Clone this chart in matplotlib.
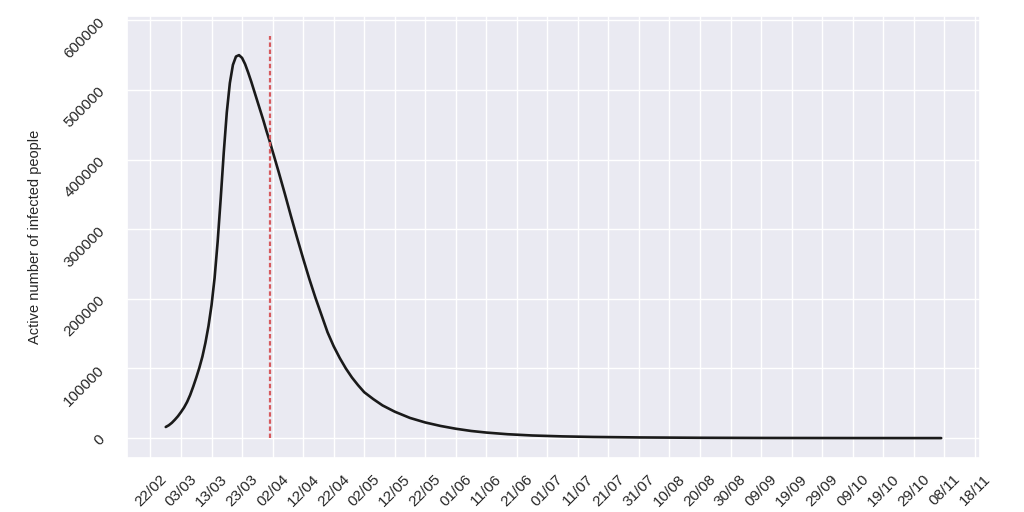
import numpy as np
import pandas as pd
import matplotlib
matplotlib.use("Agg")
import matplotlib.pyplot as plt
import seaborn as sns
import matplotlib.dates as mdates

# days counted from 22/02/2020
start = "2020-02-22"
day_offsets = [5, 6, 7, 8, 9, 10, 11, 12, 13, 14, 15, 16, 17, 18, 19, 20, 21, 22, 23, 24,
               25, 26, 27, 28, 29, 30, 31, 32, 33, 34, 35, 36, 37, 38, 39, 40, 42, 44, 46,
               48, 50, 52, 54, 56, 58, 60, 62, 64, 66, 68, 70, 73, 76, 80, 85, 90, 95, 100,
               105, 110, 117, 125, 135, 145, 160, 180, 200, 230, 259]
active = [16000, 18500, 22000, 26500, 31500, 37500, 44000, 52000, 62000, 74000,
          87000, 101000, 117000, 137000, 161000, 191000, 230000, 282000, 344000, 410000,
          468000, 510000, 536000, 548000, 550000, 546000, 537000, 525000, 512000, 498000,
          484000, 470000, 456000, 441000, 427000, 412000, 382000, 351000, 319000,
          288000, 258000, 229000, 202000, 177000, 152000, 132000, 115000, 100000, 87000,
          76000, 66000, 56000, 47000, 38000, 29000, 22500, 17500, 13500,
          10300, 8000, 5600, 3800, 2500, 1700, 1000, 500, 250, 100, 50]
lockdown = "2020-04-01"
tick_first = "2020-02-22"
tick_last = "2020-11-18"
yticks = [0, 100000, 200000, 300000, 400000, 500000, 600000]

sns.set_theme(style="darkgrid")
plt.rcParams['font.family'] = ['Liberation Sans', 'DejaVu Sans']

dates = pd.Timestamp(start) + pd.to_timedelta(day_offsets, unit="D")

fig, ax = plt.subplots(figsize=(10.24, 5.12), dpi=100)
fig.subplots_adjust(left=0.124, right=0.957, top=0.969, bottom=0.105)

ax.plot(dates, active, color='k', lw=1.9)
ax.vlines(pd.Timestamp(lockdown), 0, max(active) * 1.05, colors='#d65a5e',
          linestyles=(0, (2, 1.2)), lw=1.6)

ax.set_xticks(pd.date_range(tick_first, tick_last, freq="10D"))
ax.xaxis.set_major_formatter(mdates.DateFormatter("%d/%m"))
ax.set_yticks(yticks)
ax.tick_params(axis='x', labelrotation=45, labelsize=11, pad=4)
ax.tick_params(axis='y', labelrotation=45, labelsize=11, pad=8)
ax.set_ylabel("Active number of infected people", fontsize=10.5, labelpad=14)

fig.savefig("out.png", dpi=100)
